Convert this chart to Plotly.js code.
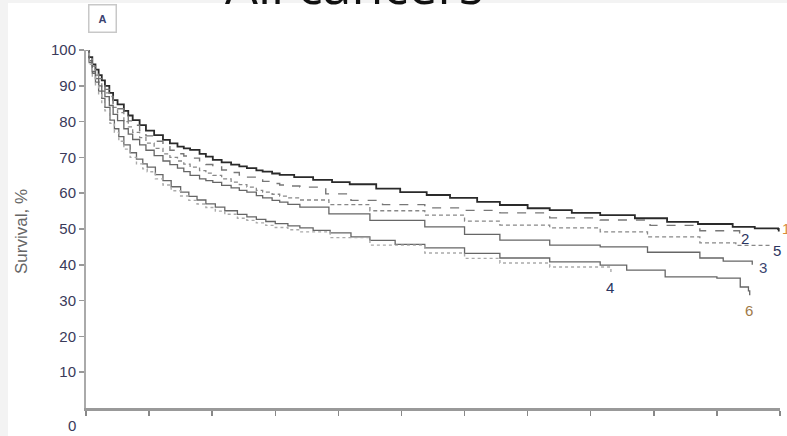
<!DOCTYPE html>
<html><head><meta charset="utf-8">
<script src="https://cdn.plot.ly/plotly-3.0.1.min.js"></script>
<style>html,body{margin:0;padding:0;background:#fff;}#chart{width:787px;height:436px;}</style>
</head><body><div id="chart"></div>
<script>
// Survival (%) by follow-up time (x in axis units, 0..11)
const x1 = [0,0.05,0.1,0.15,0.2,0.25,0.3,0.37,0.43,0.5,0.6,0.67,0.74,0.85,0.95,1.08,1.22,1.33,1.45,1.55,1.65,1.8,1.9,2.01,2.15,2.3,2.43,2.55,2.7,2.8,2.95,3.07,3.3,3.6,3.9,4.18,4.6,4.98,5.4,5.77,6.2,6.56,7.0,7.35,7.7,8.15,8.7,9.21,9.7,10.25,10.6,10.97,10.98];
const y1 = [100,98,96,94.5,93,91.5,90,88,86,84.8,83,81.7,80.4,79,77.5,76.2,74.9,73.9,73,72.5,72.1,71,70.2,69.3,68.6,68,67.5,67,66.4,66,65.5,65.1,64.5,63.7,63.1,62.5,61.3,60.3,59.5,58.7,57.6,56.7,55.8,55.3,54.5,53.9,53,52,51.4,50.6,50.2,50,49.3];
const x2 = [0,0.05,0.1,0.15,0.2,0.25,0.3,0.37,0.43,0.5,0.6,0.67,0.74,0.85,0.95,1.08,1.22,1.33,1.45,1.55,1.65,1.8,1.9,2.01,2.15,2.3,2.43,2.55,2.7,2.8,2.95,3.07,3.2,3.39,3.8,4.2,4.7,5.37,6.0,6.56,7.35,8.15,8.94,9.73,10.36];
const y2 = [100,97.8,95.5,93.7,92,90.5,89,87,85,83.6,81.5,80.2,79,77.5,76,74.5,73,72,71,70.4,69.8,68.7,68,67.3,66.5,65.8,65.1,64.5,63.7,63.3,62.7,62.3,62,61.7,59.8,58,56.8,55.9,55.2,54.5,53.1,52.5,51,49.5,48.3];
const x5 = [0,0.05,0.1,0.15,0.2,0.25,0.3,0.37,0.43,0.5,0.6,0.67,0.74,0.85,0.95,1.08,1.22,1.33,1.45,1.55,1.65,1.8,1.9,2.01,2.15,2.3,2.43,2.55,2.7,2.8,2.95,3.07,3.2,3.39,3.85,4.5,5.37,6.0,6.56,7.35,8.15,8.9,9.73,10.3,10.84];
const y5 = [100,97.5,95,93,91,89.5,88,86,84,82.5,80,78.5,77,75.5,74,72.5,71,70,69,68.1,67.3,66.3,65.6,65,64,63.1,62.4,61.7,60.8,60.3,59.7,59.2,58.7,58.1,56.8,55.1,53.9,52.2,51.1,50.3,49.2,47.8,46.1,45.4,45];
const x3 = [0,0.05,0.1,0.15,0.2,0.25,0.3,0.37,0.43,0.5,0.6,0.67,0.74,0.85,0.95,1.08,1.22,1.33,1.45,1.55,1.65,1.8,1.9,2.01,2.15,2.3,2.43,2.55,2.7,2.8,2.95,3.07,3.2,3.39,3.85,4.5,5.37,6.0,6.56,7.35,8.15,8.9,9.73,10.1,10.55,10.56];
const y3 = [100,97,94,92,90,88.5,87,84.5,82,80.3,78,76.5,75,73.5,72,70.5,69,68,67,66,65,64,63.5,63,62.2,61.5,60.8,60.3,59.3,58.7,58,57.5,56.9,56.1,54.2,52.4,50.6,48.5,46.9,45.5,45,43.5,41.9,41,41,40];
const x6 = [0,0.05,0.1,0.15,0.2,0.25,0.3,0.38,0.45,0.52,0.6,0.7,0.8,0.9,0.97,1.1,1.22,1.35,1.5,1.63,1.76,1.9,2.05,2.2,2.4,2.55,2.7,2.85,3.0,3.2,3.39,3.6,3.87,4.2,4.5,4.9,5.37,6.0,6.56,7.35,8.15,8.57,9.18,10.0,10.37,10.5,10.52];
const y6 = [100,96.5,93.5,91,88.5,86.5,84,80.4,78,75.8,73.5,71.3,69.5,68.2,67.3,65.2,63.5,61.8,60.3,59.1,58.1,57,56.1,55.1,54.1,53.4,52.7,52.1,51.5,50.9,50.3,49.6,48.9,47.8,46.8,45.7,44.7,43.2,41.9,40.8,39.9,38.5,36.6,36.3,33.8,32.7,31.5];
const x4 = [0,0.05,0.1,0.15,0.2,0.25,0.3,0.38,0.45,0.52,0.6,0.7,0.8,0.9,0.97,1.1,1.22,1.35,1.5,1.63,1.76,1.9,2.05,2.2,2.4,2.55,2.7,2.85,3.0,3.2,3.39,3.87,4.5,5.37,6.0,6.56,7.35,8.32];
const y4 = [100,96,92.5,90,87.5,85,83,79.5,77,74.5,72.3,70,68.2,66.8,66,64,62.3,60.7,59.2,58,57,56,55,54.1,53,52.4,51.7,51,50.4,49.8,49.2,47.6,45.5,43.3,41.8,40.5,39.4,38];
const yTicks = [10,20,30,40,50,60,70,80,90,100];
const xTicks = [0,1,2,3,4,5,6,7,8,9,10,11];
const curveLabels = ['1','2','3','4','5','6'];

function tr(x,y,color,dash,width){
  return {x:x,y:y,type:'scatter',mode:'lines',line:{shape:'hv',color:color,dash:dash,width:width},showlegend:false,hoverinfo:'skip'};
}
const data = [
  tr(x1,y1,'#2a2a2a','solid',1.8),
  tr(x2,y2,'#777','dash',1.4),
  tr(x5,y5,'#888','4px,3px',1.3),
  tr(x3,y3,'#666','solid',1.3),
  tr(x6,y6,'#666','solid',1.3),
  tr(x4,y4,'#aaa','dot',1.4)
];
const P = (X)=> (X-86)/694, Q = (Y)=> (408-Y)/358;
const labelPos = {'1':[786,228,'#d98a3c'],'2':[745,238,'#2b3560'],'3':[763,267,'#3b4570'],'4':[610,287,'#2b3560'],'5':[777,250,'#2b3560'],'6':[749,310,'#a07a48']};
const annotations = curveLabels.map(k=>({xref:'paper',yref:'paper',x:P(labelPos[k][0]),y:Q(labelPos[k][1]),text:k,showarrow:false,xanchor:'center',yanchor:'middle',font:{family:'Liberation Sans, Arial',size:15,color:labelPos[k][2]}}));
annotations.push({xref:'paper',yref:'paper',x:P(354),y:Q(21),text:'All cancers',showarrow:false,xanchor:'center',yanchor:'bottom',font:{family:'Open Sans',size:52,color:'#111'}});
annotations.push({xref:'paper',yref:'paper',x:P(102),y:Q(19),text:'<b>A</b>',showarrow:false,xanchor:'center',yanchor:'middle',width:24,height:24,bordercolor:'#c8c8c8',borderwidth:1.5,font:{family:'Liberation Sans, Arial',size:11,color:'#3a4270'}});
annotations.push({xref:'paper',yref:'paper',x:P(21),y:Q(232),text:'Survival, %',textangle:-90,showarrow:false,xanchor:'center',yanchor:'middle',font:{family:'Liberation Sans Narrow, Liberation Sans, Arial',size:17,color:'#666'}});
annotations.push({xref:'paper',yref:'paper',x:P(72),y:Q(425),text:'0',showarrow:false,xanchor:'center',yanchor:'middle',font:{family:'Liberation Sans, Arial',size:15,color:'#3a3a5a'}});

const layout = {
  width:787,height:436,
  margin:{l:86,r:7,t:50,b:28,pad:0},
  paper_bgcolor:'#fff',plot_bgcolor:'#fff',
  xaxis:{range:[0,11],tickvals:xTicks,showticklabels:false,ticks:'outside',ticklen:5,tickwidth:1.5,tickcolor:'#888',showline:true,linecolor:'#999',linewidth:2.5,showgrid:false,zeroline:false,fixedrange:true},
  yaxis:{range:[0,100],tickvals:yTicks,ticktext:yTicks.map(String),ticks:'outside',ticklen:5,tickwidth:1.5,tickcolor:'#999',showline:true,linecolor:'#aaa',linewidth:2,showgrid:false,zeroline:false,tickfont:{family:'Liberation Sans, Arial',size:15,color:'#3a3a5a'},fixedrange:true},
  shapes:[
    {type:'rect',xref:'paper',yref:'paper',x0:P(0),x1:P(8),y0:Q(436),y1:Q(0),fillcolor:'#f3f3f3',line:{width:0},layer:'below'},
    {type:'rect',xref:'paper',yref:'paper',x0:P(8),x1:P(787),y0:Q(3),y1:Q(0),fillcolor:'#f3f3f3',line:{width:0},layer:'below'}
  ],
  annotations:annotations
};
Plotly.newPlot('chart',data,layout,{staticPlot:true,displayModeBar:false});
</script></body></html>
